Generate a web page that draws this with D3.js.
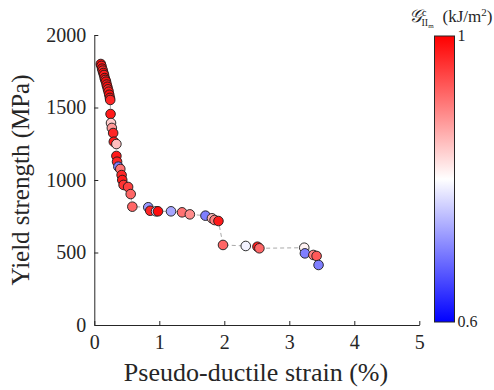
<!DOCTYPE html>
<html>
<head>
<meta charset="utf-8">
<script src="https://d3js.org/d3.v7.min.js"></script>
<style>
  body { margin: 0; background: #fff; }
</style>
</head>
<body>
<div id="chart"></div>
<script>
// strain (%), yield strength (MPa), G_IIm^c (kJ/m2)
const strain = [0.10, 0.11, 0.12, 0.13, 0.14, 0.15, 0.16, 0.17, 0.18, 0.19, 0.20, 0.21, 0.22, 0.23, 0.24, 0.245,
  0.25, 0.257, 0.27, 0.29, 0.30, 0.34, 0.34, 0.35, 0.37, 0.40, 0.42, 0.43, 0.45, 0.52, 0.56,
  0.585, 0.83, 0.86, 0.95, 0.98, 1.18, 1.35, 1.47, 1.71, 1.81, 1.85, 1.91,
  1.98, 2.33, 2.51, 2.54, 3.23, 3.24, 3.37, 3.42, 3.45];
const strength = [1800, 1787, 1768, 1754, 1738, 1724, 1703, 1690, 1678, 1658, 1643, 1625, 1609, 1588, 1566, 1552,
  1455, 1393, 1359, 1324, 1264, 1248, 1166, 1126, 1092, 1076, 1034, 1000, 966, 952, 903,
  816, 812, 788, 784, 784, 784, 777, 763, 754, 736, 724, 717,
  552, 545, 540, 529, 533, 494, 483, 476, 414];
const toughness = [0.99, 0.98, 0.99, 0.97, 0.99, 0.98, 0.99, 0.97, 0.99, 0.98, 0.99, 0.97, 0.98, 0.99, 0.98, 0.97,
  0.98, 0.84, 0.88, 0.97, 0.98, 0.85, 0.98, 0.97, 0.70, 0.91, 0.97, 0.98, 0.96, 0.95, 0.92,
  0.92, 0.72, 0.97, 0.77, 0.99, 0.73, 0.91, 0.89, 0.70, 0.86, 0.90, 0.98,
  0.92, 0.79, 0.98, 0.92, 0.81, 0.70, 0.90, 0.93, 0.70];
const xTicks = [0, 1, 2, 3, 4, 5];
const yTicks = [0, 500, 1000, 1500, 2000];
const cTicks = [0.6, 1];

const points = strain.map((s, i) => ({ x: s, y: strength[i], c: toughness[i] }));

const FONT = "'Liberation Serif', 'DejaVu Serif', serif";
const W = 494, H = 390;
const svg = d3.select('#chart').append('svg').attr('width', W).attr('height', H)
  .style('font-family', FONT);

const x = d3.scaleLinear().domain([0, 5]).range([94.3, 419.3]);
const y = d3.scaleLinear().domain([0, 2000]).range([325, 35]);
const color = d3.scaleLinear().domain([0.6, 0.8, 1]).range(['#0000ff', '#ffffff', '#ff0000']);

// axes (MATLAB style, ticks inward, no box)
const xAxis = svg.append('g').attr('transform', 'translate(0,325)')
  .call(d3.axisBottom(x).tickValues(xTicks).tickFormat(d3.format('d'))
    .tickSizeInner(-4).tickSizeOuter(0).tickPadding(10));
const yAxis = svg.append('g').attr('transform', 'translate(94.3,0)')
  .call(d3.axisLeft(y).tickValues(yTicks).tickFormat(d3.format('d'))
    .tickSizeInner(-4).tickSizeOuter(0).tickPadding(8));
[xAxis, yAxis].forEach(a => {
  a.attr('font-family', null);
  a.select('.domain').attr('stroke', '#262626').attr('stroke-width', 1);
  a.selectAll('line').attr('stroke', '#262626');
  a.selectAll('text').attr('font-size', 20).style('font-family', FONT).attr('fill', '#262626');
});
xAxis.selectAll('text').attr('dy', '0.71em');

svg.append('text').attr('x', 256).attr('y', 381).attr('text-anchor', 'middle')
  .attr('font-size', 26).attr('fill', '#262626').style('font-family', FONT).text('Pseudo-ductile strain (%)');
svg.append('text').attr('transform', 'translate(29,180) rotate(-90)').attr('text-anchor', 'middle')
  .attr('font-size', 25).attr('fill', '#262626').style('font-family', FONT).text('Yield strength (MPa)');

// dashed connecting line
svg.append('path').datum(points)
  .attr('d', d3.line().x(d => x(d.x)).y(d => y(d.y)))
  .attr('fill', 'none').attr('stroke', '#aaaaaa').attr('stroke-width', 1).attr('stroke-dasharray', '4,3');

svg.append('g').selectAll('circle').data(points).enter()
  .append('circle')
  .attr('cx', d => x(d.x)).attr('cy', d => y(d.y)).attr('r', 4.8)
  .attr('fill', d => color(d.c)).attr('stroke', '#1a1a1a').attr('stroke-width', 0.9);

// colorbar
const cb = { x: 434.5, w: 20, top: 36, bottom: 322 };
const cy = d3.scaleLinear().domain([0.6, 1]).range([cb.bottom, cb.top]);
const grad = svg.append('defs').append('linearGradient').attr('id', 'cbar')
  .attr('x1', 0).attr('y1', 1).attr('x2', 0).attr('y2', 0);
[0.6, 0.8, 1].forEach(v => grad.append('stop').attr('offset', (v - 0.6) / 0.4).attr('stop-color', color(v)));
svg.append('rect').attr('x', cb.x).attr('y', cb.top).attr('width', cb.w).attr('height', cb.bottom - cb.top)
  .attr('fill', 'url(#cbar)').attr('stroke', '#262626').attr('stroke-width', 1);
svg.append('g').selectAll('text').data(cTicks).enter().append('text')
  .attr('x', cb.x + cb.w + 3).attr('y', d => cy(d)).attr('dy', '0.3em')
  .attr('font-size', 16).attr('fill', '#262626').style('font-family', FONT).text(d => d);

const ttl = svg.append('text').attr('x', 409).attr('y', 22).attr('font-size', 17)
  .attr('fill', '#262626').style('font-family', FONT);
ttl.append('tspan').attr('font-style', 'italic').attr('font-size', 18).text('𝒢');
ttl.append('tspan').attr('dy', -6).attr('font-size', 10).text('c');
ttl.append('tspan').attr('dy', 10).attr('dx', -5).attr('font-size', 10).text('II');
ttl.append('tspan').attr('dy', 2).attr('font-size', 7).text('m');
ttl.append('tspan').attr('dy', -6).attr('dx', 9).text('(kJ/m');
ttl.append('tspan').attr('dy', -6).attr('font-size', 11).text('2');
ttl.append('tspan').attr('dy', 6).text(')');
</script>
</body>
</html>
